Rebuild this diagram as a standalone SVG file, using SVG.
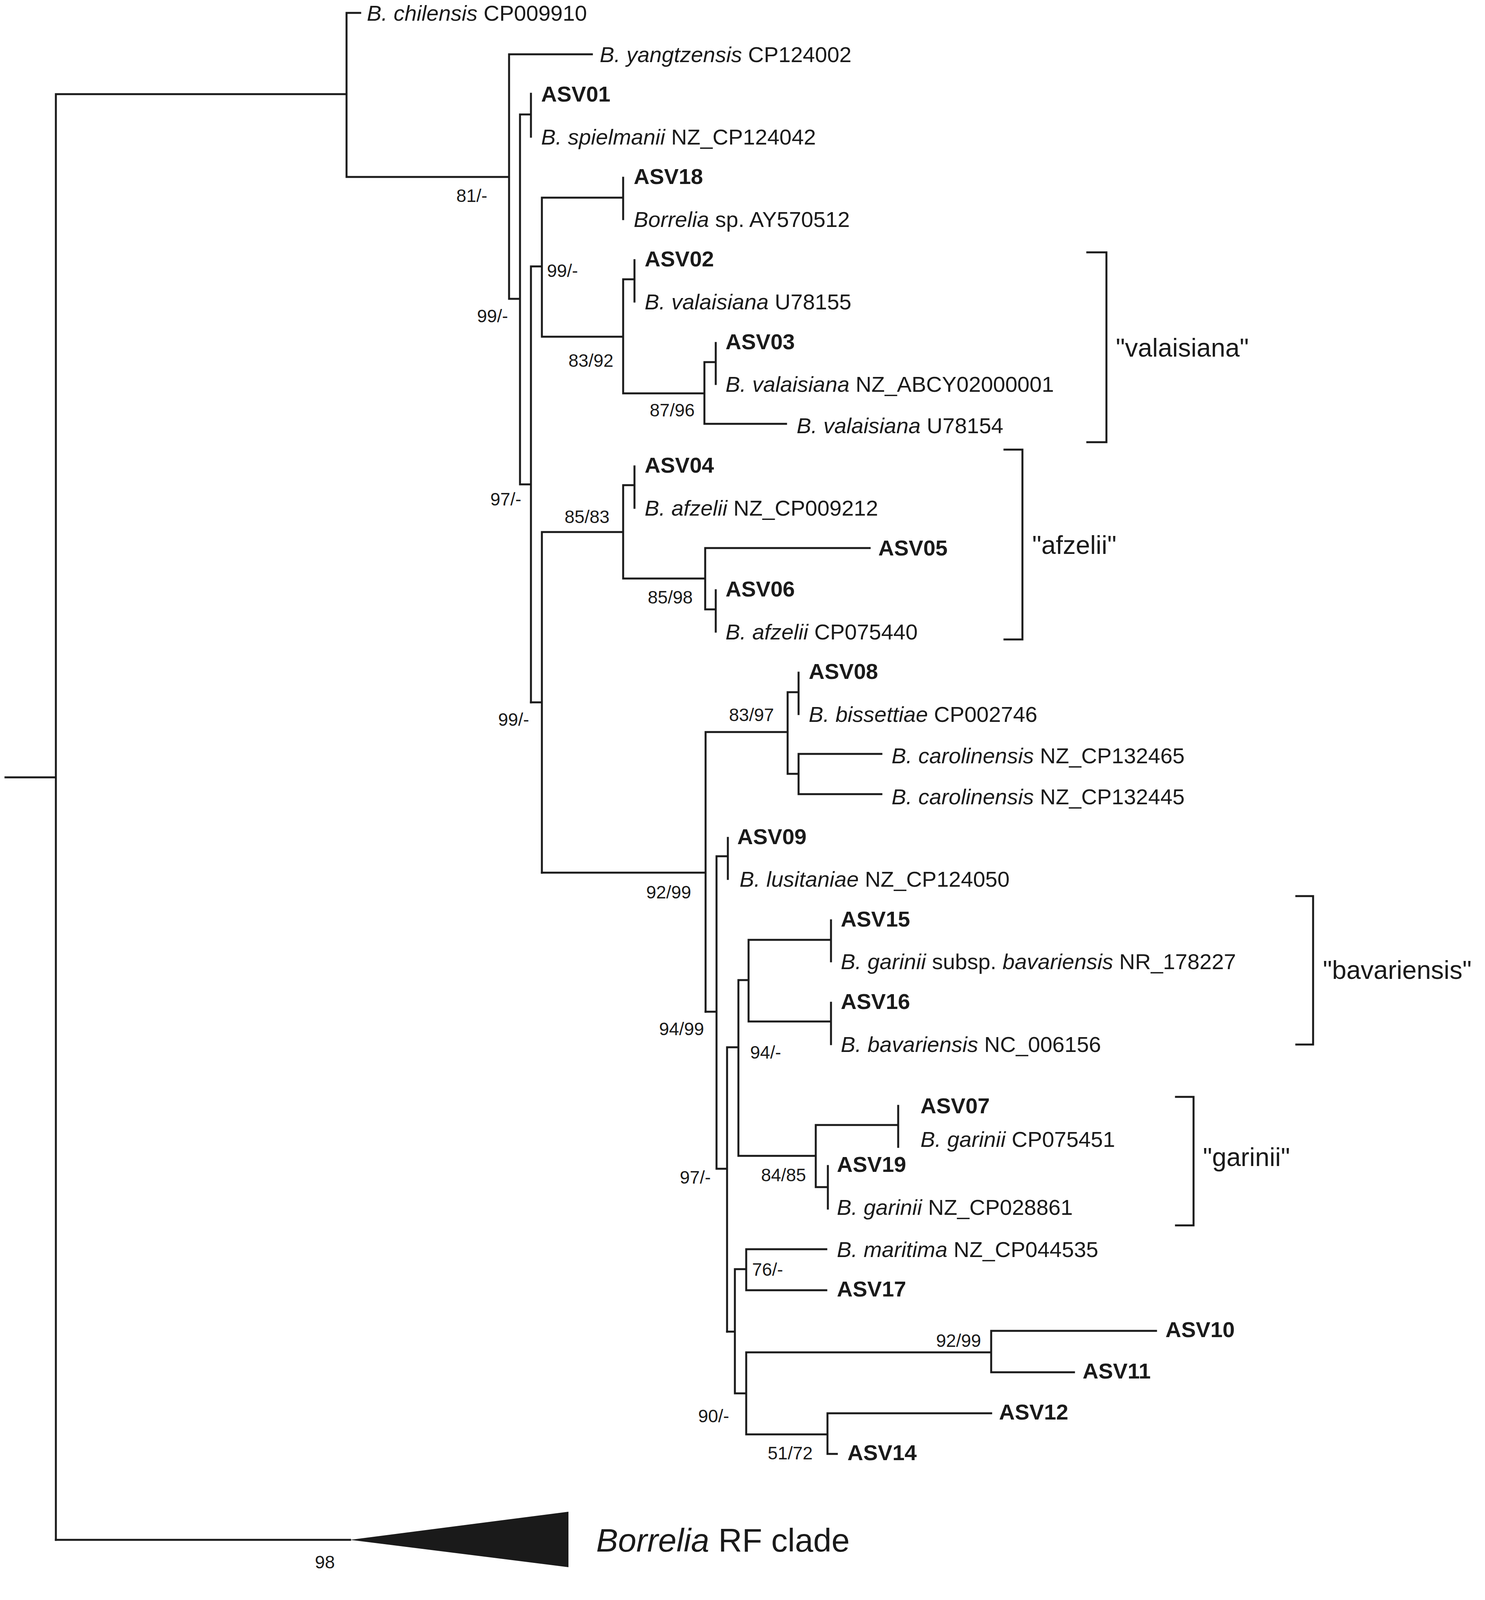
<svg xmlns="http://www.w3.org/2000/svg" width="3801" height="4258" viewBox="0 0 3801 4258">
<style>
.e{fill:none;stroke:#1a1a1a;stroke-width:5;stroke-linecap:square}
text{font-family:"Liberation Sans",Arial,sans-serif;fill:#1a1a1a}
.l{font-size:56px}
.b{font-size:56px;font-weight:bold}
.s{font-size:46px}
.c{font-size:66px}
</style>
<rect width="3801" height="4258" fill="#fff"/>
<g id="connectors" class="e">
<path d="M14,1990H143M143,241V3942M143,241H887M887,33V453M887,33H922M887,453H1303M1303,139V765M1303,139H1515M1303,765H1331M1331,293V1240M1331,293H1359M1359,240V350M1331,1240H1359M1359,682V1798M1359,682H1387M1387,506V862M1387,506H1595M1595,455V561M1387,862H1595M1595,715V1007M1595,715H1624M1624,666V772M1595,1007H1803M1803,927V1085M1803,927H1832M1832,878V983M1803,1085H2012"/>
<path d="M1359,1798H1387M1387,1362V2234M1387,1362H1595M1595,1242V1481M1595,1242H1624M1624,1194V1300M1595,1481H1805M1805,1403V1560M1805,1403H2226M1805,1560H1832M1832,1511V1617"/>
<path d="M1387,2234H1806M1806,1874V2590M1806,1874H2016M2016,1772V1981M2016,1772H2044M2044,1722V1828M2016,1981H2044M2044,1930V2033M2044,1930H2256M2044,2033H2256"/>
<path d="M1806,2590H1834M1834,2192V2992M1834,2192H1863M1863,2145V2250M1834,2992H1861M1861,2681V3409M1861,2681H1890M1890,2509V2959M1890,2509H1916M1916,2406V2615M1916,2406H2127M2127,2356V2461M1916,2615H2127M2127,2567V2673M1890,2959H2088M2088,2880V3039M2088,2880H2299M2299,2831V2936M2088,3039H2119M2119,2985V3094"/>
<path d="M1861,3409H1881M1881,3249V3567M1881,3249H1910M1910,3198V3303M1910,3198H2115M1910,3303H2115M1881,3567H1910M1910,3462V3672M1910,3462H2537M2537,3407V3513M2537,3407H2959M2537,3513H2749M1910,3672H2118M2118,3618V3722M2118,3618H2537M2118,3722H2142"/>
<path d="M143,3942H896"/>
<path d="M2783,646H2832V1132H2783M2571,1151H2617V1637H2571M3318,2294H3361V2674H3318M3010,2808H3055V3137H3010"/>
<path d="M415,4155H679M415,4133V4177M679,4133V4177"/>
</g>
<polygon id="rf-clade" points="896,3942 1455,3870 1455,4012" fill="#1a1a1a"/>
<g id="leaves">
<g id="n-chilensis"><text class="l" x="939" y="53"><tspan font-style="italic">B. chilensis</tspan> CP009910</text></g>
<g id="n-yangtzensis"><text class="l" x="1535" y="159"><tspan font-style="italic">B. yangtzensis</tspan> CP124002</text></g>
<g id="n-asv01"><text class="b" x="1385" y="260">ASV01</text></g>
<g id="n-spielmanii"><text class="l" x="1385" y="370"><tspan font-style="italic">B. spielmanii</tspan> NZ_CP124042</text></g>
<g id="n-asv18"><text class="b" x="1622" y="471">ASV18</text></g>
<g id="n-borrelia-sp"><text class="l" x="1622" y="581"><tspan font-style="italic">Borrelia</tspan> sp. AY570512</text></g>
<g id="n-asv02"><text class="b" x="1650" y="682">ASV02</text></g>
<g id="n-val1"><text class="l" x="1650" y="792"><tspan font-style="italic">B. valaisiana</tspan> U78155</text></g>
<g id="n-asv03"><text class="b" x="1857" y="894">ASV03</text></g>
<g id="n-val2"><text class="l" x="1857" y="1003"><tspan font-style="italic">B. valaisiana</tspan> NZ_ABCY02000001</text></g>
<g id="n-val3"><text class="l" x="2039" y="1109"><tspan font-style="italic">B. valaisiana</tspan> U78154</text></g>
<g id="n-asv04"><text class="b" x="1650" y="1210">ASV04</text></g>
<g id="n-afz1"><text class="l" x="1650" y="1320"><tspan font-style="italic">B. afzelii</tspan> NZ_CP009212</text></g>
<g id="n-asv05"><text class="b" x="2248" y="1422">ASV05</text></g>
<g id="n-asv06"><text class="b" x="1857" y="1527">ASV06</text></g>
<g id="n-afz2"><text class="l" x="1857" y="1637"><tspan font-style="italic">B. afzelii</tspan> CP075440</text></g>
<g id="n-asv08"><text class="b" x="2070" y="1738">ASV08</text></g>
<g id="n-biss"><text class="l" x="2070" y="1848"><tspan font-style="italic">B. bissettiae</tspan> CP002746</text></g>
<g id="n-car1"><text class="l" x="2282" y="1954"><tspan font-style="italic">B. carolinensis</tspan> NZ_CP132465</text></g>
<g id="n-car2"><text class="l" x="2282" y="2059"><tspan font-style="italic">B. carolinensis</tspan> NZ_CP132445</text></g>
<g id="n-asv09"><text class="b" x="1887" y="2161">ASV09</text></g>
<g id="n-lus"><text class="l" x="1893" y="2270"><tspan font-style="italic">B. lusitaniae</tspan> NZ_CP124050</text></g>
<g id="n-asv15"><text class="b" x="2152" y="2372">ASV15</text></g>
<g id="n-gbav"><text class="l" x="2152" y="2481"><tspan font-style="italic">B. garinii</tspan> subsp. <tspan font-style="italic">bavariensis</tspan> NR_178227</text></g>
<g id="n-asv16"><text class="b" x="2152" y="2583">ASV16</text></g>
<g id="n-bav"><text class="l" x="2152" y="2693"><tspan font-style="italic">B. bavariensis</tspan> NC_006156</text></g>
<g id="n-asv07"><text class="b" x="2356" y="2850">ASV07</text></g>
<g id="n-gar1"><text class="l" x="2356" y="2936"><tspan font-style="italic">B. garinii</tspan> CP075451</text></g>
<g id="n-asv19"><text class="b" x="2142" y="3000">ASV19</text></g>
<g id="n-gar2"><text class="l" x="2142" y="3110"><tspan font-style="italic">B. garinii</tspan> NZ_CP028861</text></g>
<g id="n-mar"><text class="l" x="2142" y="3218"><tspan font-style="italic">B. maritima</tspan> NZ_CP044535</text></g>
<g id="n-asv17"><text class="b" x="2142" y="3319">ASV17</text></g>
<g id="n-asv10"><text class="b" x="2983" y="3423">ASV10</text></g>
<g id="n-asv11"><text class="b" x="2771" y="3529">ASV11</text></g>
<g id="n-asv12"><text class="b" x="2557" y="3634">ASV12</text></g>
<g id="n-asv14"><text class="b" x="2169" y="3738">ASV14</text></g>
<g id="n-rf"><text x="1526" y="3972" font-size="84"><tspan font-style="italic">Borrelia</tspan> RF clade</text></g>
</g>
<g id="support" class="s">
<text class="s" x="1168" y="517">81/-</text>
<text class="s" x="1221" y="825">99/-</text>
<text class="s" x="1400" y="709">99/-</text>
<text class="s" x="1455" y="939">83/92</text>
<text class="s" x="1663" y="1066">87/96</text>
<text class="s" x="1255" y="1294">97/-</text>
<text class="s" x="1445" y="1339">85/83</text>
<text class="s" x="1658" y="1545">85/98</text>
<text class="s" x="1275" y="1858">99/-</text>
<text class="s" x="1866" y="1846">83/97</text>
<text class="s" x="1654" y="2300">92/99</text>
<text class="s" x="1687" y="2650">94/99</text>
<text class="s" x="1920" y="2710">94/-</text>
<text class="s" x="1948" y="3024">84/85</text>
<text class="s" x="1740" y="3030">97/-</text>
<text class="s" x="1925" y="3266">76/-</text>
<text class="s" x="2396" y="3448">92/99</text>
<text class="s" x="1787" y="3641">90/-</text>
<text class="s" x="1965" y="3736">51/72</text>
<text class="s" x="806" y="4015">98</text>
</g>
<g id="clades">
<text class="c" x="2856" y="913">"valaisiana"</text>
<text class="c" x="2642" y="1418">"afzelii"</text>
<text class="c" x="3386" y="2506">"bavariensis"</text>
<text class="c" x="3079" y="2985">"garinii"</text>
</g>
<text id="scale" class="s" x="547" y="4215" text-anchor="middle">0.005</text>
</svg>
